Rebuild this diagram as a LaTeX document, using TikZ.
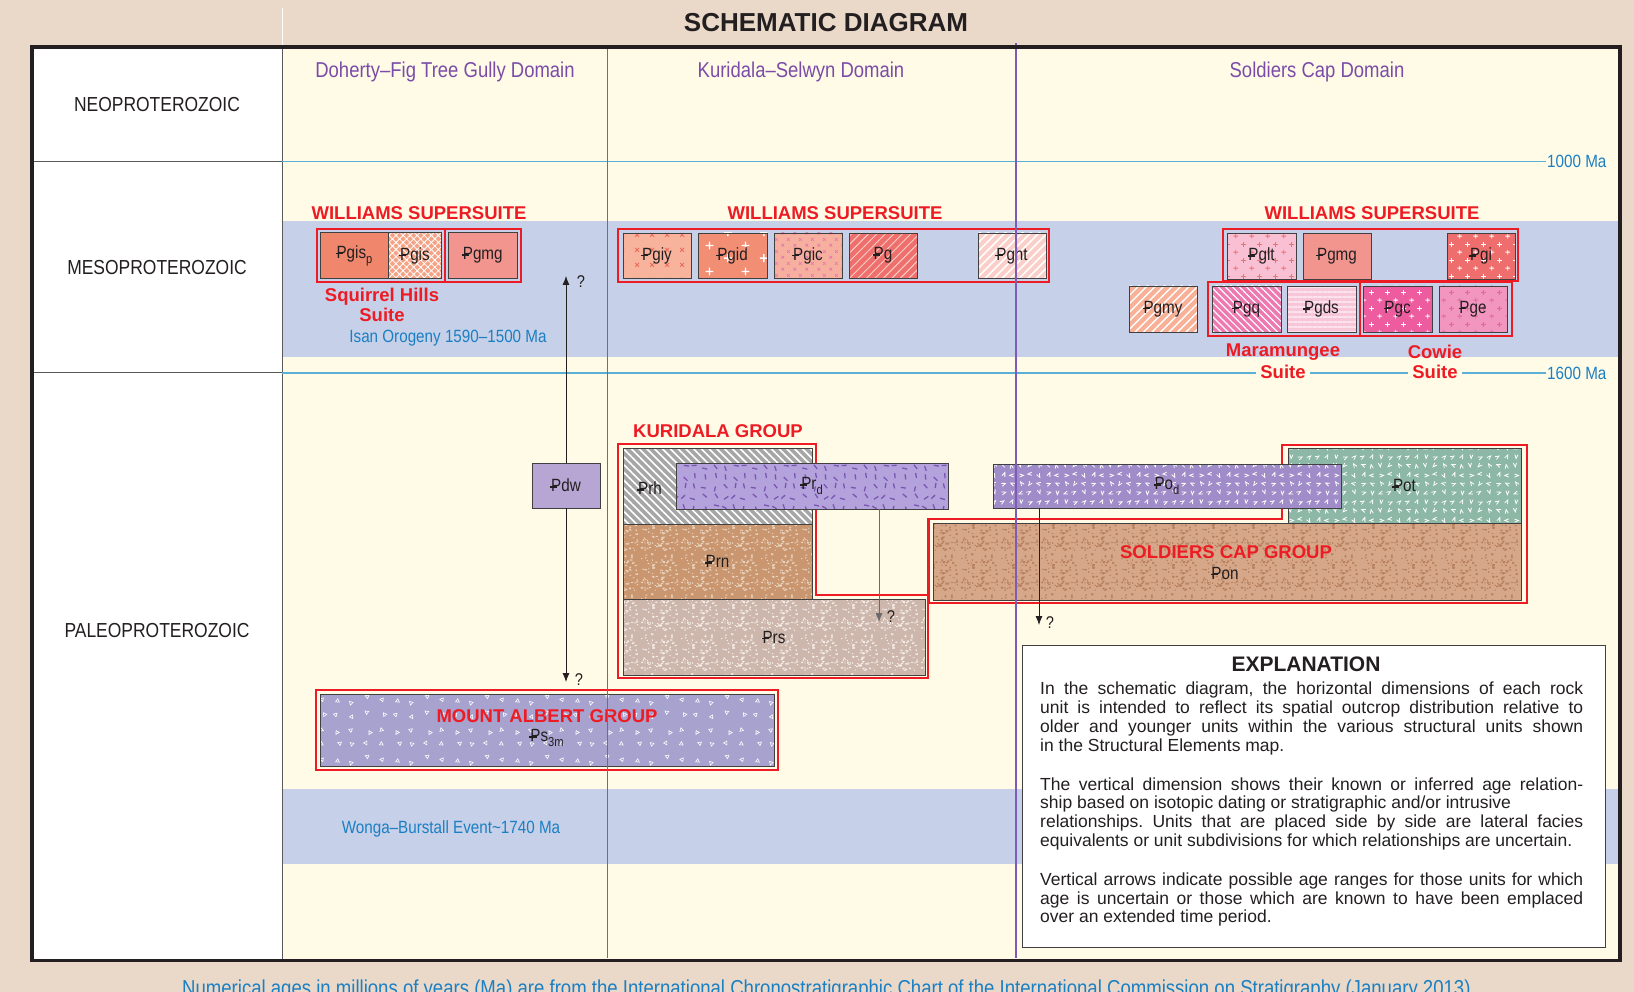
\documentclass[tikz,border=0pt]{standalone}
\usepackage{fontspec}
\setmainfont{Liberation Sans}
\newfontfamily\nar[FakeStretch=0.86]{Liberation Sans}
\usetikzlibrary{patterns,patterns.meta,arrows.meta}

\definecolor{beige}{HTML}{EAD9C9}
\definecolor{cream}{HTML}{FFFBE7}
\definecolor{bandblue}{HTML}{C6D0E8}
\definecolor{lineblue}{HTML}{5AAFD4}
\definecolor{textblue}{HTML}{1B7FC3}
\definecolor{purptext}{HTML}{7A4CA8}
\definecolor{purpline}{HTML}{7E5BB6}
\definecolor{redc}{HTML}{ED1C24}
\definecolor{txt}{HTML}{231F20}
\definecolor{ubord}{HTML}{404040}
\definecolor{gridgrey}{HTML}{5A5A5A}
\definecolor{arrgrey}{HTML}{6A6A6A}
% unit colours
\definecolor{cpgisp}{HTML}{F0876C}
\definecolor{cpgis}{HTML}{F5A386}
\definecolor{cpgmg}{HTML}{F3958F}
\definecolor{cpgiy}{HTML}{F7B39C}
\definecolor{cpgiyx}{HTML}{EE6A5A}
\definecolor{cpgid}{HTML}{F28E74}
\definecolor{cpgic}{HTML}{F7B0A0}
\definecolor{cpgicx}{HTML}{E87AB0}
\definecolor{cpg}{HTML}{EE6F6C}
\definecolor{cpght}{HTML}{FBCFC9}
\definecolor{cpglt}{HTML}{F9C0D4}
\definecolor{cpgltx}{HTML}{EF7070}
\definecolor{cpgi}{HTML}{EE6D6D}
\definecolor{cpgmy}{HTML}{F8B096}
\definecolor{cpgq}{HTML}{EE78B0}
\definecolor{cpgds}{HTML}{F8C6D9}
\definecolor{cpgdsx}{HTML}{FCE3EC}
\definecolor{cpgc}{HTML}{EC5C9E}
\definecolor{cpge}{HTML}{F296BF}
\definecolor{cpgex}{HTML}{E0689A}
\definecolor{cpdw}{HTML}{B7A5D4}
\definecolor{cprh}{HTML}{A6A6A6}
\definecolor{cprd}{HTML}{B4A2DC}
\definecolor{cprdx}{HTML}{7A55B0}
\definecolor{cprn}{HTML}{C99670}
\definecolor{cprnx}{HTML}{E9D2BC}
\definecolor{cprs}{HTML}{CDB6AB}
\definecolor{cprsx}{HTML}{F4ECE6}
\definecolor{cpod}{HTML}{A08CC8}
\definecolor{cpot}{HTML}{8DB8A6}
\definecolor{cpon}{HTML}{D6A788}
\definecolor{cponx}{HTML}{B57E5C}
\definecolor{cps}{HTML}{A7A2CE}

% patterns
\pgfdeclarepattern{
  name=speck, type=uncolored,
  bottom left={\pgfpointorigin}, top right={\pgfpoint{40pt}{40pt}},
  tile size={\pgfpoint{40pt}{40pt}},
  code={%
    \pgfmathsetseed{11}%
    \foreach \i in {1,...,110}{%
      \pgfmathsetmacro\px{rnd*37+1}%
      \pgfmathsetmacro\py{rnd*37+1}%
      \pgfmathsetmacro\pw{0.8+rnd*1.6}%
      \pgfmathsetmacro\ph{0.8+rnd*1.1}%
      \pgfpathrectangle{\pgfpoint{\px pt}{\py pt}}{\pgfpoint{\pw pt}{\ph pt}}%
      \pgfusepath{fill}%
    }%
  }
}
\pgfdeclarepattern{
  name=vees, type=uncolored,
  bottom left={\pgfpointorigin}, top right={\pgfpoint{45pt}{45pt}},
  tile size={\pgfpoint{45pt}{45pt}},
  code={%
    \pgfmathsetseed{5}%
    \pgfsetlinewidth{0.8pt}%
    \foreach \i in {0,...,4}{\foreach \j in {0,...,4}{%
      \pgfmathsetmacro\px{\i*9+4.5+rnd*2-1}%
      \pgfmathsetmacro\py{\j*9+4.5+rnd*2-1}%
      \pgfmathsetmacro\pa{rnd*360}%
      \begin{pgfscope}%
        \pgftransformshift{\pgfpoint{\px pt}{\py pt}}%
        \pgftransformrotate{\pa}%
        \pgfpathmoveto{\pgfpoint{-1.6pt}{2pt}}%
        \pgfpathlineto{\pgfpoint{0pt}{-2pt}}%
        \pgfpathlineto{\pgfpoint{1.6pt}{2pt}}%
        \pgfusepath{stroke}%
      \end{pgfscope}}}%
  }
}
\pgfdeclarepattern{
  name=tris, type=uncolored,
  bottom left={\pgfpointorigin}, top right={\pgfpoint{60pt}{60pt}},
  tile size={\pgfpoint{60pt}{60pt}},
  code={%
    \pgfmathsetseed{9}%
    \pgfsetlinewidth{0.6pt}%
    \foreach \i in {0,...,3}{\foreach \j in {0,...,3}{%
      \pgfmathsetmacro\px{\i*15+7.5+rnd*7-3.5}%
      \pgfmathsetmacro\py{\j*15+7.5+rnd*7-3.5}%
      \pgfmathsetmacro\pa{rnd*360}%
      \begin{pgfscope}%
        \pgftransformshift{\pgfpoint{\px pt}{\py pt}}%
        \pgftransformrotate{\pa}%
        \pgfpathmoveto{\pgfpoint{0pt}{2.2pt}}%
        \pgfpathlineto{\pgfpoint{-1.9pt}{-1.1pt}}%
        \pgfpathlineto{\pgfpoint{1.9pt}{-1.1pt}}%
        \pgfpathclose
        \pgfusepath{stroke}%
      \end{pgfscope}}}%
  }
}
\pgfdeclarepattern{
  name=dashes, type=uncolored,
  bottom left={\pgfpointorigin}, top right={\pgfpoint{50pt}{50pt}},
  tile size={\pgfpoint{50pt}{50pt}},
  code={%
    \pgfmathsetseed{3}%
    \pgfsetlinewidth{1.3pt}%
    \foreach \i in {0,...,4}{\foreach \j in {0,...,4}{%
      \pgfmathsetmacro\px{\i*10+5+rnd*4-2}%
      \pgfmathsetmacro\py{\j*10+5+rnd*4-2}%
      \pgfmathsetmacro\pa{rnd*180}%
      \begin{pgfscope}%
        \pgftransformshift{\pgfpoint{\px pt}{\py pt}}%
        \pgftransformrotate{\pa}%
        \pgfpathmoveto{\pgfpoint{-2.6pt}{0pt}}%
        \pgfpathlineto{\pgfpoint{2.6pt}{0pt}}%
        \pgfusepath{stroke}%
      \end{pgfscope}}}%
  }
}
\pgfdeclarepattern{
  name=plusses, type=uncolored,
  bottom left={\pgfpointorigin}, top right={\pgfpoint{16pt}{16pt}},
  tile size={\pgfpoint{16pt}{16pt}},
  code={%
    \pgfsetlinewidth{0.9pt}%
    \pgfpathmoveto{\pgfpoint{1.5pt}{4pt}}\pgfpathlineto{\pgfpoint{6.5pt}{4pt}}%
    \pgfpathmoveto{\pgfpoint{4pt}{1.5pt}}\pgfpathlineto{\pgfpoint{4pt}{6.5pt}}%
    \pgfpathmoveto{\pgfpoint{9.5pt}{12pt}}\pgfpathlineto{\pgfpoint{14.5pt}{12pt}}%
    \pgfpathmoveto{\pgfpoint{12pt}{9.5pt}}\pgfpathlineto{\pgfpoint{12pt}{14.5pt}}%
    \pgfusepath{stroke}%
  }
}
\pgfdeclarepattern{
  name=bigplus, type=uncolored,
  bottom left={\pgfpointorigin}, top right={\pgfpoint{36pt}{26pt}},
  tile size={\pgfpoint{36pt}{26pt}},
  code={%
    \pgfsetlinewidth{1.4pt}%
    \pgfpathmoveto{\pgfpoint{4pt}{6pt}}\pgfpathlineto{\pgfpoint{12pt}{6pt}}%
    \pgfpathmoveto{\pgfpoint{8pt}{2pt}}\pgfpathlineto{\pgfpoint{8pt}{10pt}}%
    \pgfpathmoveto{\pgfpoint{22pt}{19pt}}\pgfpathlineto{\pgfpoint{30pt}{19pt}}%
    \pgfpathmoveto{\pgfpoint{26pt}{15pt}}\pgfpathlineto{\pgfpoint{26pt}{23pt}}%
    \pgfusepath{stroke}%
  }
}
\pgfdeclarepattern{
  name=xmarks, type=uncolored,
  bottom left={\pgfpointorigin}, top right={\pgfpoint{15pt}{15pt}},
  tile size={\pgfpoint{15pt}{15pt}},
  code={%
    \pgfsetlinewidth{0.9pt}%
    \pgfpathmoveto{\pgfpoint{5.5pt}{5.5pt}}\pgfpathlineto{\pgfpoint{9.5pt}{9.5pt}}%
    \pgfpathmoveto{\pgfpoint{5.5pt}{9.5pt}}\pgfpathlineto{\pgfpoint{9.5pt}{5.5pt}}%
    \pgfusepath{stroke}%
  }
}
\pgfdeclarepattern{
  name=xsmall, type=uncolored,
  bottom left={\pgfpointorigin}, top right={\pgfpoint{12pt}{12pt}},
  tile size={\pgfpoint{12pt}{12pt}},
  code={%
    \pgfsetlinewidth{0.8pt}%
    \pgfpathmoveto{\pgfpoint{1.5pt}{1.5pt}}\pgfpathlineto{\pgfpoint{4.5pt}{4.5pt}}%
    \pgfpathmoveto{\pgfpoint{1.5pt}{4.5pt}}\pgfpathlineto{\pgfpoint{4.5pt}{1.5pt}}%
    \pgfpathmoveto{\pgfpoint{7.5pt}{7.5pt}}\pgfpathlineto{\pgfpoint{10.5pt}{10.5pt}}%
    \pgfpathmoveto{\pgfpoint{7.5pt}{10.5pt}}\pgfpathlineto{\pgfpoint{10.5pt}{7.5pt}}%
    \pgfusepath{stroke}%
  }
}

\newcommand\ufont{\nar\fontsize{17.7}{19}\selectfont}
\newcommand\Pb{\makebox[0pt][l]{\kern-0.05em\rule[0.22em]{0.4em}{0.085em}}P}
\newcommand\sub[1]{\raisebox{-0.28em}{\fontsize{13}{13}\selectfont #1}}
\newcommand\rockunit[7]{\node[ubox,#6,minimum width={#4-#2},minimum height={#5-#3}] (#1) at ({(#2+#4)/2},{(#3+#5)/2}) {#7};}

\begin{document}
\frenchspacing
\begin{tikzpicture}[x=1pt,y=-1pt,
  ubox/.style={draw=ubord, line width=0.9pt, inner sep=0pt, font=\ufont, text=txt},
  base/.style={preaction={fill=#1}},
  pat/.style 2 args={pattern={#1}, pattern color=#2},
  redbox/.style={draw=redc, line width=2.6pt},
  redlab/.style={text=redc, font=\bfseries\fontsize{18.5}{20}\selectfont, inner sep=1pt},
  suitelab/.style={redlab, fill=cream, inner xsep=4pt, inner ysep=0pt},
  domlab/.style={text=purptext, font=\nar\fontsize{21.5}{22}\selectfont},
  perlab/.style={font=\nar\fontsize{20.3}{22}\selectfont, text=txt},
  bluelab/.style={text=textblue, font=\nar\fontsize{17.7}{19}\selectfont, inner sep=1pt},
  qlab/.style={font=\nar\fontsize{17}{18}\selectfont, inner sep=1pt, text=txt},
  lbl/.style={font=\ufont, text=txt, inner sep=1pt},
  arr/.style={-{Latex[length=9pt,width=7pt]}, line width=0.8pt, draw=txt},
]
\clip (0,0) rectangle (1634,992);
\fill[beige] (0,0) rectangle (1634,992);
\draw[white, line width=0.8pt] (282,8) -- (282,47);

\node[font=\bfseries\fontsize{26}{28}\selectfont, text=txt] (title) at (826,23) {SCHEMATIC DIAGRAM};

% panels
\fill[white] (32,47) rectangle (282,961);
\fill[cream] (282,47) rectangle (1620,961);
\fill[bandblue] (282,221) rectangle (1620,357.5);
\fill[bandblue] (282,789) rectangle (1620,864);

% left column dividers
\draw[gridgrey, line width=0.9pt] (32,161.5) -- (282,161.5);
\draw[gridgrey, line width=0.9pt] (32,372) -- (282,372);
\draw[gridgrey, line width=0.9pt] (282,47) -- (282,961);

% age lines
\node[bluelab, anchor=west] (ma1000) at (1546,161.5) {1000 Ma};
\node[bluelab, anchor=west] (ma1600) at (1546,373) {1600 Ma};
\draw[lineblue, line width=1.2pt] (282,161.5) -- (ma1000.west);
\draw[lineblue, line width=1.2pt] (282,373) -- (ma1600.west);

% period labels
\node[perlab] (neo) at (157,105) {NEOPROTEROZOIC};
\node[perlab] (meso) at (157,268) {MESOPROTEROZOIC};
\node[perlab] (paleo) at (157,631) {PALEOPROTEROZOIC};

% domain labels
\node[domlab] (dom1) at (445,72) {Doherty–Fig Tree Gully Domain};
\node[domlab] (dom2) at (801,72) {Kuridala–Selwyn Domain};
\node[domlab] (dom3) at (1317,72) {Soldiers Cap Domain};

% event labels
\node[bluelab] (isan) at (448,338) {Isan Orogeny 1590–1500 Ma};
\node[bluelab] (wonga) at (451,829) {Wonga–Burstall Event\textasciitilde 1740 Ma};

% ---------- Williams Supersuite, Doherty domain
\node[redlab] (ws1) at (419,213) {WILLIAMS SUPERSUITE};
\draw[redbox] (317,229) rectangle (445,282);
\draw[redbox] (445,229) rectangle (521,282);
\rockunit{pgisp}{320.7}{232.5}{388.3}{278.5}{fill=cpgisp}{\Pb gis\sub{p}}
\rockunit{pgis}{388.3}{232.5}{441.5}{278.5}{base=cpgis,pat={Hatch[angle=45,distance=5pt,line width=0.8pt]}{white}}{\Pb gis}
\rockunit{pgmgA}{448}{232.5}{517.5}{278.5}{fill=cpgmg}{\Pb gmg}
\node[redlab, align=center] (shs) at (382,305) {Squirrel Hills\\Suite};

% ---------- Williams Supersuite, Kuridala domain
\node[redlab] (ws2) at (835,213) {WILLIAMS SUPERSUITE};
\draw[redbox] (618,229) rectangle (1049,282);
\rockunit{pgiy}{623}{233}{691}{278}{base=cpgiy,pat={xmarks}{cpgiyx}}{\Pb giy}
\rockunit{pgid}{698}{233}{767}{278}{base=cpgid,pat={bigplus}{white}}{\Pb gid}
\rockunit{pgic}{774}{233}{842}{278}{base=cpgic,pat={xsmall}{cpgicx}}{\Pb gic}
\rockunit{pg}{849}{233}{917}{278}{base=cpg,pat={Lines[angle=45,distance=6pt,line width=1pt]}{cpght}}{\Pb g}
\rockunit{pght}{978}{233}{1046}{278}{base=cpght,pat={Lines[angle=45,distance=6pt,line width=1.6pt]}{white}}{\Pb ght}

% ---------- Williams Supersuite, Soldiers Cap domain
\node[redlab] (ws3) at (1372,213) {WILLIAMS SUPERSUITE};
\draw[redbox] (1223,229) rectangle (1518,281);
\draw[redbox] (1208,282) rectangle (1360,336);
\draw[redbox] (1360,282) rectangle (1512,336);
\rockunit{pglt}{1227}{233}{1296}{279}{base=cpglt,pat={plusses}{cpgltx}}{\Pb glt}
\rockunit{pgmgB}{1303}{233}{1371}{279}{fill=cpgmg}{\Pb gmg}
\rockunit{pgi}{1447}{233}{1515}{279}{base=cpgi,pat={plusses}{white}}{\Pb gi}
\rockunit{pgmy}{1129}{286}{1197}{332}{base=cpgmy,pat={Lines[angle=45,distance=6pt,line width=1.4pt]}{white}}{\Pb gmy}
\rockunit{pgq}{1212}{286}{1281}{332}{base=cpgq,pat={Lines[angle=-45,distance=5pt,line width=1.2pt]}{white}}{\Pb gq}
\rockunit{pgds}{1287}{286}{1356}{332}{base=cpgds,pat={Lines[angle=0,distance=5pt,line width=2pt]}{cpgdsx}}{\Pb gds}
\rockunit{pgc}{1363}{286}{1432}{332}{base=cpgc,pat={plusses}{white}}{\Pb gc}
\rockunit{pge}{1439}{286}{1507}{332}{base=cpge,pat={plusses}{cpgex}}{\Pb ge}
\node[redlab] (maram) at (1283,352) {Maramungee};
\node[suitelab] (maramsuite) at (1283,372) {Suite};
\node[redlab] (cowie) at (1435,352) {Cowie};
\node[suitelab] (cowiesuite) at (1435,372) {Suite};

% ---------- Doherty: Pdw and Mount Albert
\rockunit{pdw}{532}{463}{600}{508}{fill=cpdw}{\Pb dw}
\draw[redbox] (316,690) rectangle (778,770);
\rockunit{ps}{320}{694}{774}{766}{base=cps,pat={tris}{white}}{}
\node[redlab] (malab) at (547,716) {MOUNT ALBERT GROUP};
\node[lbl] (pslab) at (547,738) {\Pb s\sub{3m}};

% ---------- Kuridala group
\node[redlab] (kglab) at (718,431) {KURIDALA GROUP};
\draw[redbox] (618,444) -- (816,444) -- (816,595) -- (928,595) -- (928,678) -- (618,678) -- cycle;
\rockunit{prh}{623}{448}{812}{524}{base=cprh,pat={Lines[angle=-45,distance=5.5pt,line width=1.6pt]}{white}}{}
\node[lbl] (prhlab) at (650,488) {\Pb rh};
\rockunit{prn}{623}{524}{812}{599}{base=cprn,pat={speck}{cprnx}}{\Pb rn}
\rockunit{prs}{623}{599}{925}{675}{base=cprs,pat={speck}{cprsx}}{\Pb rs}
\rockunit{prd}{676}{463}{948}{509}{base=cprd,pat={dashes}{cprdx}}{\Pb r\sub{d}}

% ---------- Soldiers Cap group
\draw[redbox] (1282,445) -- (1527,445) -- (1527,603) -- (928.5,603) -- (928.5,519) -- (1282,519) -- cycle;
\rockunit{pot}{1288}{448}{1521}{523}{base=cpot,pat={vees}{white}}{\Pb ot}
\rockunit{pon}{933}{523}{1521}{600}{base=cpon,pat={speck}{cponx}}{}
\rockunit{pod}{993}{464}{1341}{508}{base=cpod,pat={vees}{white}}{\Pb o\sub{d}}
\node[redlab] (sclab) at (1226,552) {SOLDIERS CAP GROUP};
\node[lbl] (ponlab) at (1225,573) {\Pb on};

% ---------- domain dividers
\draw[purpline, line width=1.1pt] (607.5,47) -- (607.5,958);
\draw[purpline, line width=1.1pt] (1016,43) -- (1016,958);

% ---------- arrows
\coordinate (pdwup) at (566,276);
\coordinate (pdwdn) at (566,682);
\draw[arr] (pdw.north) -- (pdwup);
\draw[arr] (pdw.south) -- (pdwdn);
\node[qlab] (q1) at (581,282) {?};
\node[qlab] (q2) at (579,680) {?};
\coordinate (prddn) at (879,622);
\draw[arr, draw=arrgrey] (prd.south -| prddn) -- (prddn);
\node[qlab] (q3) at (891,617) {?};
\coordinate (poddn) at (1039,625);
\draw[arr] (pod.south -| poddn) -- (poddn);
\node[qlab] (q4) at (1050,623) {?};

% ---------- explanation
\node[draw=ubord, fill=white, line width=0.9pt, minimum width=583pt, minimum height=302pt, inner sep=0pt] (expl) at (1313.5,796) {};
\node[font=\bfseries\fontsize{21}{22}\selectfont, text=txt] (expltitle) at (1306,664) {EXPLANATION};
\node[anchor=north west, inner sep=0pt, text width=543pt, align=justify, font=\fontsize{17.5}{18.8}\selectfont, text=txt] (expltext) at (1040,682) {In the schematic diagram, the horizontal dimensions of each rock\linebreak
unit is intended to reflect its spatial outcrop distribution relative to\linebreak
older and younger units within the various structural units shown\linebreak
in the Structural Elements map.\par\vspace{20pt}
The vertical dimension shows their known or inferred age relation-\linebreak
ship based on isotopic dating or stratigraphic and/or intrusive\newline
relationships. Units that are placed side by side are lateral facies\linebreak
equivalents or unit subdivisions for which relationships are uncertain.\par\vspace{20pt}
Vertical arrows indicate possible age ranges for those units for which\linebreak
age is uncertain or those which are known to have been emplaced\linebreak
over an extended time period.};

% ---------- frame
\draw[txt, line width=3.5pt] (32,47) rectangle (1620,960.5);

% ---------- footer
\node[anchor=base, text=textblue, font=\nar\fontsize{21.6}{23}\selectfont, inner sep=0pt] (foot) at (829,995) {Numerical ages in millions of years (Ma) are from the International Chronostratigraphic Chart of the International Commission on Stratigraphy (January 2013).};
\end{tikzpicture}
\end{document}
